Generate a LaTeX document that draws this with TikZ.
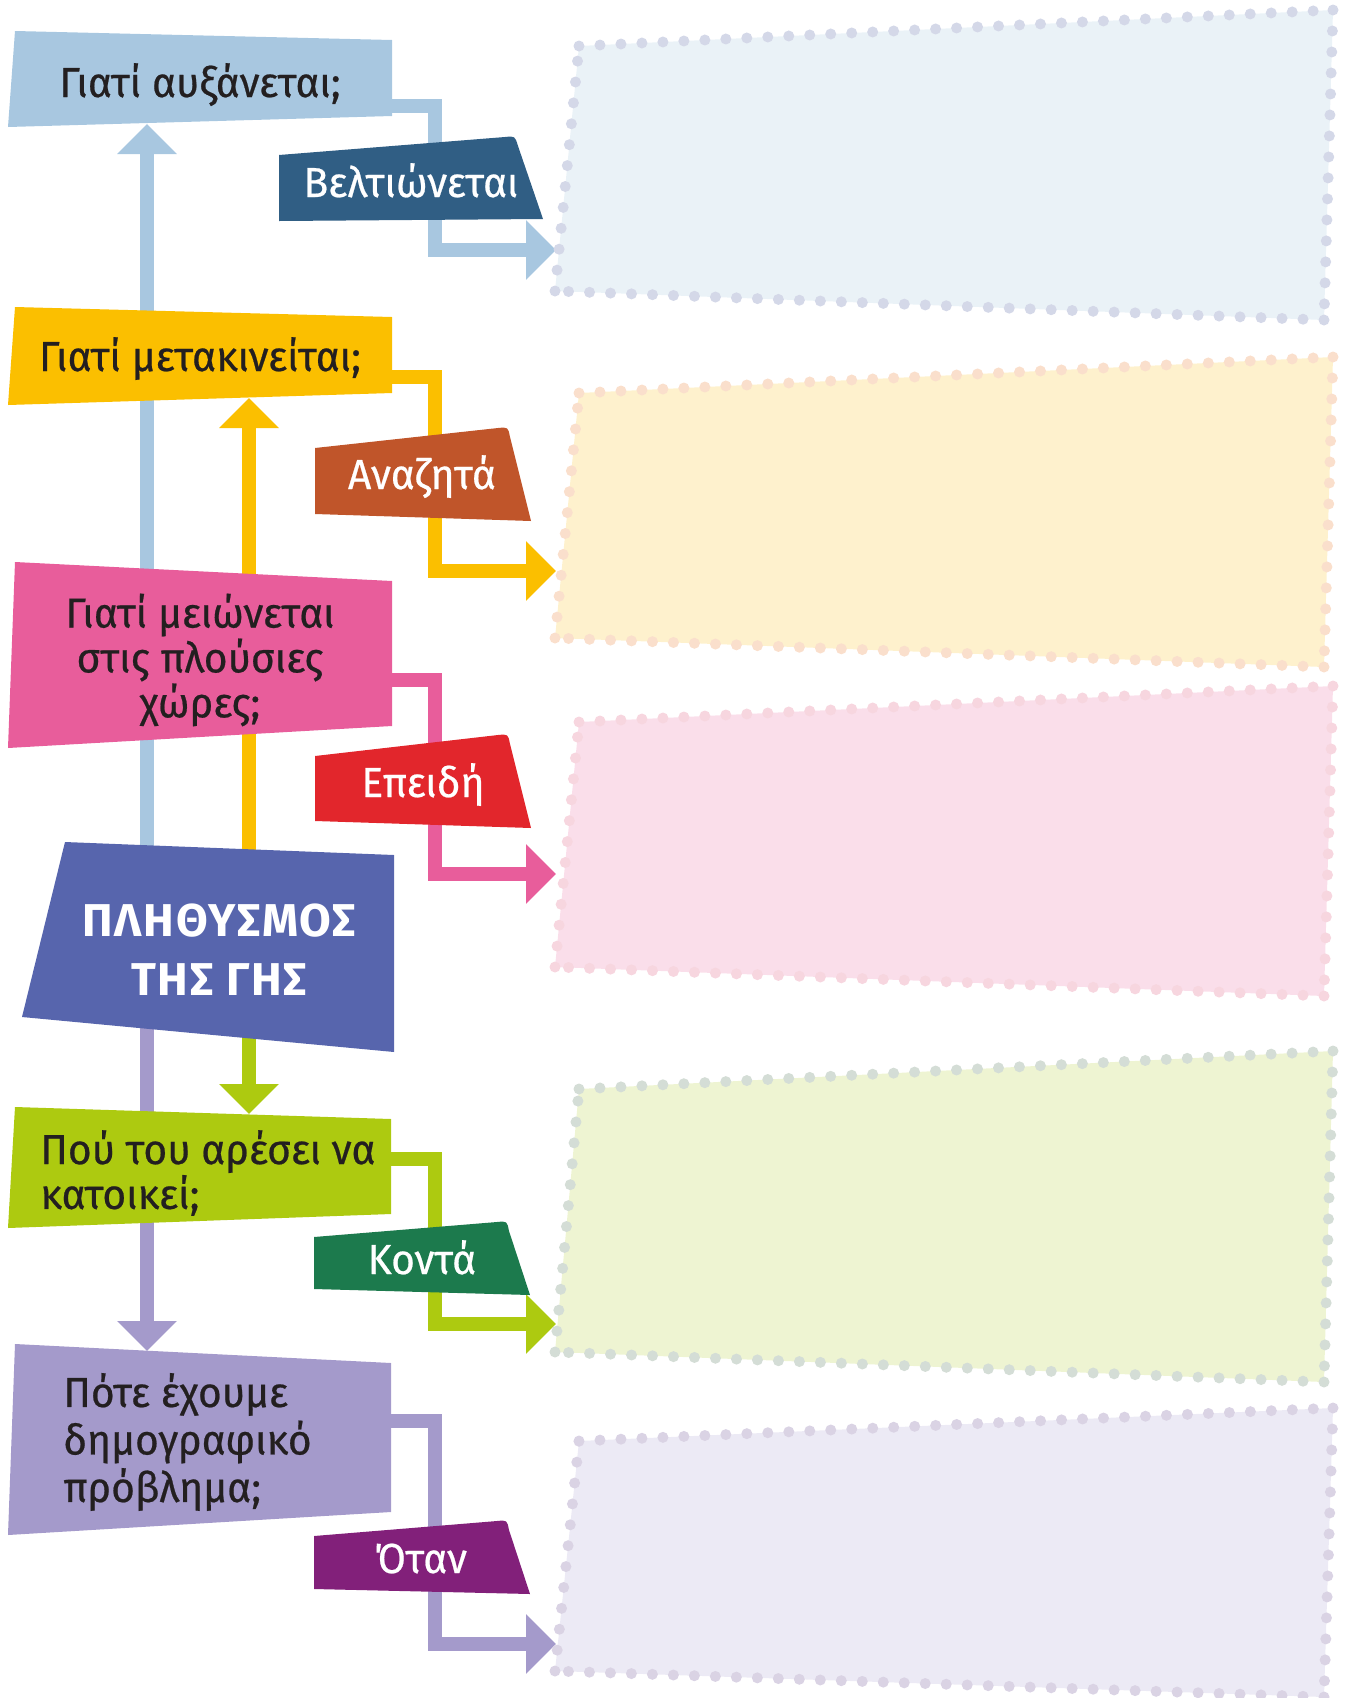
\documentclass[tikz,border=0pt]{standalone}
\usepackage{fontspec}
\setmainfont{Fira Sans}[FakeStretch=0.97, FakeBold=0.5]
\newfontfamily\corefont{Fira Sans}[LetterSpace=4]
\usepackage{tikz}
\usetikzlibrary{arrows.meta,calc,backgrounds}
\definecolor{ink}{HTML}{231F20}
\definecolor{qblue}{HTML}{A8C7E0}
\definecolor{qyellow}{HTML}{FBBF00}
\definecolor{qpink}{HTML}{E85D9B}
\definecolor{core}{HTML}{5765AD}
\definecolor{qgreen}{HTML}{ADCA10}
\definecolor{qlilac}{HTML}{A49ACB}
\definecolor{lblue}{HTML}{305E84}
\definecolor{lrust}{HTML}{C0552A}
\definecolor{lred}{HTML}{E2262C}
\definecolor{lgreen}{HTML}{1C7A4D}
\definecolor{lpurple}{HTML}{82207A}
\definecolor{pblue}{HTML}{EAF2F7}
\definecolor{dblue}{HTML}{D4D8E8}
\definecolor{pyellow}{HTML}{FEF1CD}
\definecolor{dyellow}{HTML}{FADFCC}
\definecolor{ppink}{HTML}{FADEEA}
\definecolor{dpink}{HTML}{F7D6DF}
\definecolor{pgreen}{HTML}{EEF4D2}
\definecolor{dgreen}{HTML}{D4DDD6}
\definecolor{plilac}{HTML}{ECEAF5}
\definecolor{dlilac}{HTML}{DAD3E4}
\tikzset{
  qtext/.style={font=\fontsize{21}{20}\selectfont, text=ink, inner sep=0pt},
  ltext/.style={font=\fontsize{21}{24}\selectfont, text=white, inner sep=0pt},
  coretext/.style={font=\corefont\bfseries\fontsize{23}{29.5}\selectfont, text=white,
                   align=center, inner sep=0pt},
  fl/.style={draw=#1, line width=7pt, line join=miter,
             -{Triangle[length=15pt,width=29pt]}},
  dots/.style={draw=#1, line width=5.5pt, line cap=round,
               dash pattern=on 0pt off 10.5pt}
}
\newcommand{\panel}[6]{\fill[#1] #3 -- #4 -- #5 -- #6 -- cycle;
  \draw[dots=#2] #3 -- #4 #4 -- #5 #5 -- #6 #6 -- #3;}

\begin{document}
\begin{tikzpicture}[x=0.5pt, y=-0.5pt]
  \useasboundingbox (0,0) rectangle (1351,1698);
  \coordinate (rail) at (435,0);

  % question boxes
  \fill[qblue] (15,31) -- (392,40) -- (392,116) -- (8,127) -- cycle;
  \fill[qyellow] (15,307) -- (392,317) -- (392,393) -- (8,405) -- cycle;
  \fill[qpink] (15,562) -- (392,581) -- (392,726) -- (8,748) -- cycle;
  \fill[core] (65,842) -- (394,855) -- (394,1052) -- (22,1017) -- cycle;
  \fill[qgreen] (15,1107) -- (391,1119) -- (391,1214) -- (8,1228) -- cycle;
  \fill[qlilac] (15,1344) -- (391,1363) -- (391,1512) -- (8,1535) -- cycle;

  \node[qtext, anchor=base] (q1) at (200,97) {Γιατί αυξάνεται;};
  \node[qtext, anchor=base] (q2) at (200,371) {Γιατί μετακινείται;};
  \node[qtext, align=center] (q3) at (200,660) {Γιατί μειώνεται\\στις πλούσιες\\χώρες;};
  \node[coretext] (pop) at (219,950) {ΠΛΗΘΥΣΜΟΣ\\ΤΗΣ ΓΗΣ};
  \node[qtext, align=left, anchor=west] (q5) at (40,1173) {Πού του αρέσει να\\κατοικεί;};
  \node[qtext, align=left, anchor=west, font=\fontsize{21}{23.75}\selectfont] (q6) at (63,1442)
    {Πότε έχουμε\\δημογραφικό\\πρόβλημα;};

  \coordinate (q1-in) at (147,124); \coordinate (q2-in) at (249,398);
  \coordinate (q5-in) at (249,1114); \coordinate (q6-in) at (147,1351);
  \coordinate (q1-out) at (392,106); \coordinate (q2-out) at (392,377);
  \coordinate (q3-out) at (392,680); \coordinate (q5-out) at (391,1159);
  \coordinate (q6-out) at (391,1421);
  \coordinate (a1) at (556,250); \coordinate (a2) at (556,571);
  \coordinate (a3) at (556,874); \coordinate (a5) at (556,1324);
  \coordinate (a6) at (556,1644);

  \begin{scope}[on background layer]
    \draw[fl=qblue] (q1-in |- pop) -- (q1-in);
    \draw[fl=qyellow] (q2-in |- pop) -- (q2-in);
    \draw[fl=qgreen] (q5-in |- pop) -- (q5-in);
    \draw[fl=qlilac] (q6-in |- pop) -- (q6-in);
  \end{scope}

  \draw[fl=qblue] (q1-out) -| (rail |- a1) -- (a1);
  \draw[fl=qyellow] (q2-out) -| (rail |- a2) -- (a2);
  \draw[fl=qpink] (q3-out) -| (rail |- a3) -- (a3);
  \draw[fl=qgreen] (q5-out) -| (rail |- a5) -- (a5);
  \draw[fl=qlilac] (q6-out) -| (rail |- a6) -- (a6);

  % answer tabs
  \fill[lblue] (279,155) -- (505,137) .. controls (515,136) .. (518,146) -- (543,219) -- (279,221) -- cycle;
  \fill[lrust] (315,448) -- (498,428) .. controls (508,427) .. (510,437) -- (531,521) -- (315,514) -- cycle;
  \fill[lred] (315,756) -- (498,735) .. controls (508,734) .. (510,744) -- (531,828) -- (315,821) -- cycle;
  \fill[lgreen] (314,1237) -- (497,1222) .. controls (507,1221) .. (509,1231) -- (530,1295) -- (314,1289) -- cycle;
  \fill[lpurple] (314,1536) -- (497,1521) .. controls (507,1520) .. (509,1530) -- (530,1594) -- (314,1589) -- cycle;
  \node[ltext, anchor=base] (l1) at (411,197) {Βελτιώνεται};
  \node[ltext, anchor=base] (l2) at (422,489) {Αναζητά};
  \node[ltext, anchor=base] (l3) at (423,797) {Επειδή};
  \node[ltext, anchor=base] (l5) at (422,1274) {Κοντά};
  \node[ltext, anchor=base] (l6) at (421,1573) {Όταν};

  % dotted answer panels
  \panel{pblue}{dblue}{(579,46)}{(1333,10)}{(1324,320)}{(555,291)}
  \panel{pyellow}{dyellow}{(579,393)}{(1333,357)}{(1324,667)}{(555,638)}
  \panel{ppink}{dpink}{(579,722)}{(1333,686)}{(1324,996)}{(555,967)}
  \panel{pgreen}{dgreen}{(579,1089)}{(1333,1051)}{(1324,1382)}{(555,1352)}
  \panel{plilac}{dlilac}{(579,1441)}{(1333,1408)}{(1324,1697)}{(555,1671)}
\end{tikzpicture}
\end{document}
